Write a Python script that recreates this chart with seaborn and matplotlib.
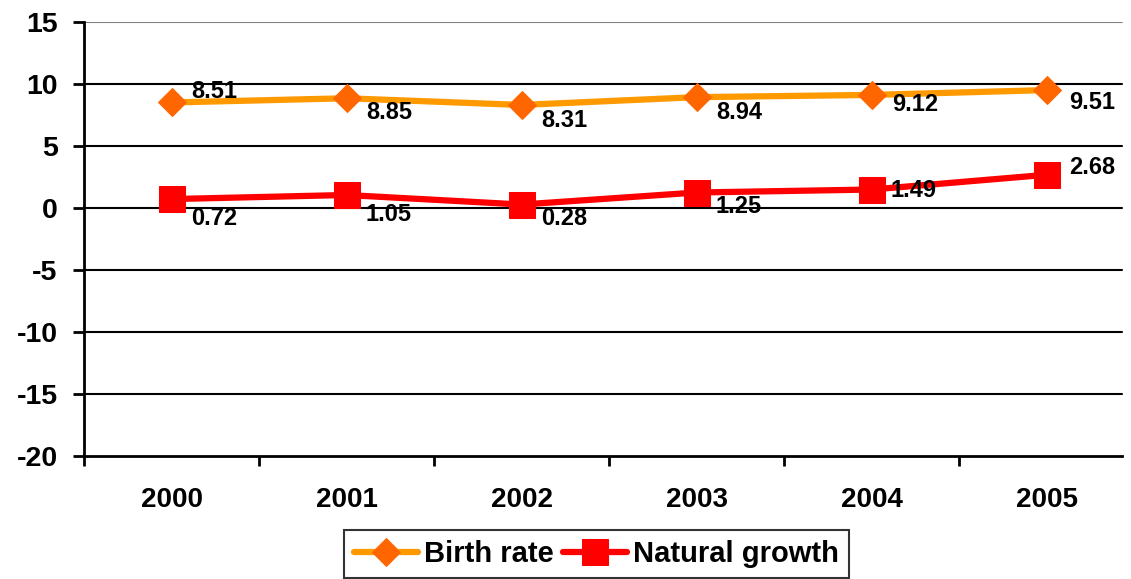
import pandas as pd
import matplotlib.pyplot as plt
import seaborn as sns

years = ['2000', '2001', '2002', '2003', '2004', '2005']
birth_rate = [8.51, 8.85, 8.31, 8.94, 9.12, 9.51]
natural_growth = [0.72, 1.05, 0.28, 1.25, 1.49, 2.68]

sns.set_style('white', {'text.color': 'black', 'xtick.color': 'black',
                        'ytick.color': 'black', 'axes.labelcolor': 'black'})
plt.rcParams['font.family'] = ['Liberation Sans', 'DejaVu Sans']
plt.rcParams['font.weight'] = 'bold'

data = pd.DataFrame({'x': range(len(years)), 'year': years,
                     'Birth rate': birth_rate, 'Natural growth': natural_growth})

fig = plt.figure(figsize=(11.31, 5.79), dpi=100)
ax = fig.add_axes([0.0743, 0.2124, 0.9284, 0.7496])

sns.lineplot(x='x', y='Birth rate', data=data, ax=ax, color='#FF9900', lw=4.5,
             marker='D', markersize=14.5, markerfacecolor='#FF6600',
             markeredgecolor='#FF6600', label='Birth rate')
sns.lineplot(x='x', y='Natural growth', data=data, ax=ax, color='#FF0000', lw=4.5,
             marker='s', markersize=18.5, markerfacecolor='#FF0000',
             markeredgecolor='#FF0000', label='Natural growth')

# data labels (offsets in points)
br_off = [(14, 8), (14, -10), (14, -11), (14, -11), (15, -7), (16, -9)]
ng_off = [(14, -14), (14, -14), (14, -10), (14, -10), (14, -1), (16, 5)]
for i, v in enumerate(birth_rate):
    ax.annotate(f'{v:.2f}', (i, v), xytext=br_off[i], textcoords='offset points',
                fontsize=17, fontweight='bold', va='center', ha='left')
for i, v in enumerate(natural_growth):
    ax.annotate(f'{v:.2f}', (i, v), xytext=ng_off[i], textcoords='offset points',
                fontsize=17, fontweight='bold', va='center', ha='left')

ax.set_ylim(-20, 15)
ax.set_xlim(-0.5, 5.5)
ax.set_yticks(range(-20, 16, 5))
ax.set_yticklabels([str(t) for t in range(-20, 16, 5)], fontsize=20.5, fontweight='bold')
ax.set_xticks(range(len(years)))
ax.set_xticklabels(years, fontsize=20, fontweight='bold')
ax.set_xticks([i - 0.5 for i in range(len(years))], minor=True)
ax.tick_params(axis='x', which='major', length=0, pad=22)
ax.tick_params(axis='x', which='minor', length=7, width=2, direction='out', bottom=True)
ax.tick_params(axis='y', length=8, width=2, direction='out', left=True, pad=11)
ax.set_xlabel('')
ax.set_ylabel('')

grid_end = (1122 - 84) / 1050
for t in range(-15, 15, 5):
    ax.axhline(t, xmax=grid_end, color='black', lw=1.5, zorder=0)
ax.axhline(15, xmax=grid_end, color='#808080', lw=1.5, zorder=0)

for s in ['top', 'right']:
    ax.spines[s].set_visible(False)
ax.spines['bottom'].set_bounds(-0.5, 5.5 - (1 - grid_end) * 6)
for s in ['left', 'bottom']:
    ax.spines[s].set_color('black')
    ax.spines[s].set_linewidth(2)

leg = ax.legend(loc='upper center', bbox_to_anchor=(0.488, -0.1705), ncol=2,
                frameon=True, fancybox=False, edgecolor='black', borderaxespad=0,
                prop={'size': 21, 'weight': 'bold'}, handlelength=2.2,
                handletextpad=0.2, columnspacing=0.3, borderpad=0.35)
leg.get_frame().set_linewidth(1.5)

fig.savefig('out.png', dpi=100)
